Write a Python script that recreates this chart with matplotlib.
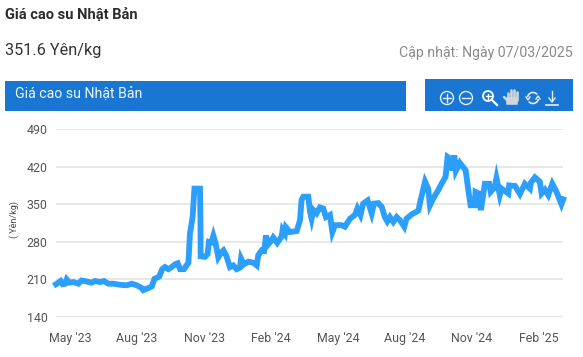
import matplotlib
matplotlib.use('Agg')
import matplotlib.pyplot as plt
from matplotlib.patches import Rectangle, Circle, FancyBboxPatch, Arc

plt.rcParams['font.family'] = ['Roboto', 'DejaVu Sans']

W, H = 583, 357

# months since May 2023
months = [-0.63, -0.52, -0.42, -0.33, -0.22, -0.15, -0.03, 0.15, 0.37, 0.52, 0.75, 0.97, 1.12, 1.34, 1.52,
          1.72, 1.94, 2.24, 2.54, 2.76, 2.99, 3.21, 3.28, 3.51, 3.66, 3.78, 3.99, 4.13, 4.25, 4.40,
          4.55, 4.70, 4.82, 4.93, 5.10, 5.30, 5.37, 5.49, 5.57, 5.82, 5.84, 5.85, 6.04, 6.16, 6.22,
          6.34, 6.42, 6.52, 6.64, 6.79, 6.87, 6.99, 7.16, 7.31, 7.46, 7.61, 7.66, 7.79, 7.99, 8.21,
          8.36, 8.43, 8.58, 8.69, 8.78, 8.85, 9.03, 9.10, 9.28, 9.48, 9.52, 9.63, 9.67, 9.85, 10.15,
          10.30, 10.37, 10.45, 10.67, 10.75, 10.82, 10.90, 11.04, 11.19, 11.34, 11.46, 11.64, 11.75, 11.87, 12.16,
          12.31, 12.54, 12.76, 12.87, 13.01, 13.13, 13.33, 13.51, 13.61, 13.81, 13.96, 14.10, 14.21, 14.33, 14.48,
          14.63, 14.78, 14.97, 15.07, 15.30, 15.60, 15.70, 15.90, 16.04, 16.12, 16.27, 16.49, 16.64, 16.82, 16.91,
          17.01, 17.13, 17.21, 17.28, 17.46, 17.72, 17.84, 17.94, 18.13, 18.16, 18.31, 18.40, 18.58, 18.78, 18.84,
          19.03, 19.10, 19.25, 19.33, 19.63, 19.67, 19.93, 20.15, 20.37, 20.60, 20.64, 20.82, 21.04, 21.12, 21.27,
          21.42, 21.60, 21.79, 21.94, 22.01, 22.09]
prices = [201, 204, 207, 201, 202, 210, 204, 205, 202, 208, 206, 204, 207, 205, 207,
          202, 202, 200, 199, 202, 199, 194, 190, 194, 197, 211, 215, 229, 233, 229,
          233, 238, 240, 229, 229, 241, 295, 326, 379, 379, 320, 253, 252, 257, 280,
          279, 291, 277, 251, 261, 264, 255, 233, 236, 229, 232, 249, 238, 243, 241,
          236, 255, 264, 263, 292, 274, 283, 288, 278, 290, 302, 295, 307, 298, 300,
          320, 358, 364, 364, 336, 323, 339, 333, 344, 342, 326, 330, 298, 311, 311,
          308, 323, 330, 342, 330, 351, 357, 333, 351, 352, 345, 326, 318, 326, 317,
          326, 320, 308, 323, 331, 338, 357, 392, 379, 348, 361, 376, 388, 401, 438,
          435, 413, 441, 412, 427, 413, 376, 348, 348, 373, 370, 339, 388, 388, 373,
          382, 398, 367, 379, 370, 385, 384, 369, 388, 379, 390, 400, 392, 370, 377,
          367, 388, 373, 357, 350, 359]

tick_months = [0, 3, 6, 9, 12, 15, 18, 21]
tick_labels = ["May '23", "Aug '23", "Nov '23", "Feb '24", "May '24", "Aug '24", "Nov '24", "Feb '25"]
y_ticks = [140, 210, 280, 350, 420, 490]

fig = plt.figure(figsize=(W / 100, H / 100), dpi=100, facecolor='white')

# page furniture, in pixel coordinates
bg = fig.add_axes([0, 0, 1, 1])
bg.set_xlim(0, W)
bg.set_ylim(H, 0)
bg.axis('off')

bg.text(5, 15, 'Giá cao su Nhật Bản', fontsize=10.5, fontweight='bold', color='#2b2b2b', va='center')
bg.text(5, 51, '351.6 Yên/kg', fontsize=11.7, color='#333333', va='center')
bg.text(573, 53, 'Cập nhật: Ngày 07/03/2025', fontsize=10.2, color='#8a8a8a', va='center', ha='right')

blue = '#1976d2'
bg.add_patch(Rectangle((5, 81), 401, 30, color=blue, lw=0))
bg.add_patch(Rectangle((425, 79), 148, 32, color=blue, lw=0))
bg.text(15, 95, 'Giá cao su Nhật Bản', fontsize=10.2, color='#eef5fc', va='center')

# toolbar icons
ic = '#e3eefa'
bg.add_patch(Circle((447, 98), 6.5, fill=False, ec=ic, lw=1))
bg.plot([443, 451], [98, 98], color=ic, lw=1)
bg.plot([447, 447], [94, 102], color=ic, lw=1)
bg.add_patch(Circle((466, 98), 6.5, fill=False, ec=ic, lw=1))
bg.plot([462, 470], [98, 98], color=ic, lw=1)
bg.add_patch(Circle((488, 96), 5, fill=False, ec='white', lw=1.3))
bg.plot([485.5, 490.5], [96, 96], color='white', lw=1)
bg.plot([488, 488], [93.5, 98.5], color='white', lw=1)
bg.plot([492, 497], [100, 105], color='white', lw=1.6)
for fx, ftop in [(507.5, 93), (510.5, 90), (513.5, 90), (516.5, 92)]:
    bg.plot([fx, fx], [ftop, 100], color='#cfd6de', lw=1.9, solid_capstyle='round')
bg.add_patch(FancyBboxPatch((507, 98), 10, 6, boxstyle='round,pad=0.8', color='#cfd6de', lw=0))
bg.plot([504, 507], [97, 100], color='#cfd6de', lw=1.8, solid_capstyle='round')
bg.add_patch(Arc((533, 98), 11, 11, theta1=190, theta2=320, color=ic, lw=1.2))
bg.add_patch(Arc((533, 98), 11, 11, theta1=10, theta2=140, color=ic, lw=1.2))
bg.plot([526, 528, 530], [97, 100, 97], color=ic, lw=1)
bg.plot([536, 538, 540], [99, 96, 99], color=ic, lw=1)
bg.plot([552, 552], [91, 101], color=ic, lw=1)
bg.plot([549, 552, 555], [98, 102, 98], color=ic, lw=1)
bg.plot([546, 558], [105, 105], color=ic, lw=1.2)

bg.text(14, 220, '( Yên/kg)', fontsize=6.5, color='#444444', rotation=90, va='center', ha='center')

# chart
left, right, top, bottom = 56, 563, 129, 317
ax = fig.add_axes([left / W, 1 - bottom / H, (right - left) / W, (bottom - top) / H])
ax.patch.set_alpha(0)
ax.plot(months, prices, color='#2b9ffb', lw=4.2, solid_joinstyle='miter', clip_on=False)

ax.set_xlim(-0.63, 22.08)
ax.set_ylim(140, 490)
ax.set_yticks(y_ticks)
ax.set_xticks(tick_months)
ax.set_xticklabels(tick_labels)
ax.tick_params(axis='both', length=0, labelsize=8.9, labelcolor='#555555')
ax.tick_params(axis='x', pad=11)
ax.tick_params(axis='y', pad=6)
for lab in ax.get_yticklabels():
    lab.set_y(lab.get_position()[1])
ax.grid(axis='y', color='#e6e6e6', lw=1.3)
ax.set_axisbelow(True)
for s in ax.spines.values():
    s.set_visible(False)

fig.savefig('out.png', dpi=100, facecolor='white')
